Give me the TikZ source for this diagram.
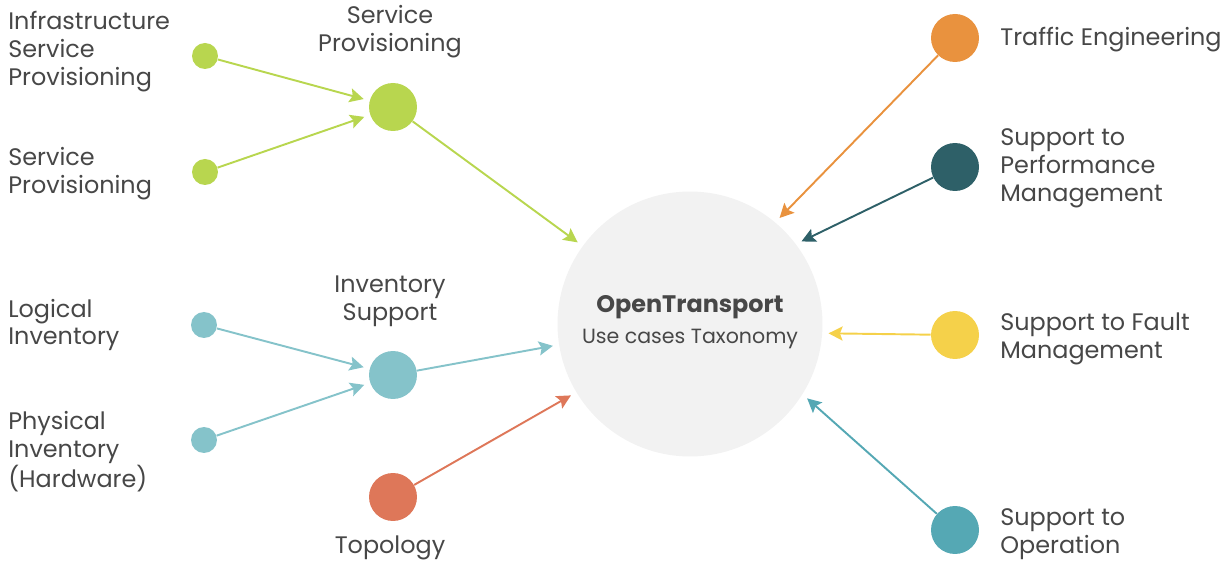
\documentclass[tikz,border=0pt]{standalone}
\usepackage{fontspec}
\setmainfont{Poppins}
\usetikzlibrary{arrows.meta}
\definecolor{provgreen}{HTML}{B8D64F}
\definecolor{invteal}{HTML}{85C3CA}
\definecolor{topored}{HTML}{DE7759}
\definecolor{trafficorange}{HTML}{E9923E}
\definecolor{perfteal}{HTML}{2E6068}
\definecolor{faultyellow}{HTML}{F5D14A}
\definecolor{operteal}{HTML}{55A8B4}
\definecolor{coregray}{HTML}{F2F2F2}
\definecolor{textgray}{HTML}{474747}
\tikzstyle{core} = [circle, minimum size=5.3cm, inner sep=0pt, fill=coregray]
\tikzstyle{hub} = [circle, minimum size=0.96cm, inner sep=0pt]
\tikzstyle{dot} = [circle, minimum size=0.52cm, inner sep=0pt]
\tikzstyle{sidetext} = [anchor=west, align=left, inner sep=0pt, text=textgray, font=\fontsize{13.6}{15.9}\selectfont]
\tikzstyle{hubtext} = [align=center, inner sep=0pt, text=textgray, font=\fontsize{13.6}{15.9}\selectfont]
\tikzstyle{arrow} = [line width=1.1pt, -{Stealth[length=8pt, width=8pt, inset=1.5pt]}, shorten >=0.12cm]

\begin{document}
\begin{tikzpicture}[x=0.02cm, y=-0.02cm]
\useasboundingbox (0,0) rectangle (1231,563);

% objects
\node (core) at (690,324) [core] {};
\node (coretitle) at (690,307) [hubtext] {\textbf{OpenTransport}};
\node (coresub) at (690,339) [hubtext, font=\fontsize{11.7}{14}\selectfont] {Use cases Taxonomy};

\node (prov) at (393,107) [hub, fill=provgreen] {};
\node (infra) at (205,56) [dot, fill=provgreen] {};
\node (serv) at (205,172) [dot, fill=provgreen] {};

\node (inv) at (393,375) [hub, fill=invteal] {};
\node (logical) at (204,325) [dot, fill=invteal] {};
\node (physical) at (204,440) [dot, fill=invteal] {};

\node (topo) at (393,497) [hub, fill=topored] {};

\node (traffic) at (955,38) [hub, fill=trafficorange] {};
\node (perf) at (955,167) [hub, fill=perfteal] {};
\node (fault) at (955,335) [hub, fill=faultyellow] {};
\node (oper) at (955,530) [hub, fill=operteal] {};

% texts
\node (infratext) at (8,52) [sidetext] {Infrastructure\\Service\\Provisioning};
\node (servtext) at (8,174) [sidetext] {Service\\Provisioning};
\node (provtext) at (390,32) [hubtext] {Service\\Provisioning};
\node (logicaltext) at (8,325) [sidetext] {Logical\\Inventory};
\node (physicaltext) at (8,452) [sidetext] {Physical\\Inventory\\(Hardware)};
\node (invtext) at (390,301) [hubtext] {Inventory\\Support};
\node (topotext) at (390,548) [hubtext] {Topology};

\node (traffictext) at (1000,40) [sidetext] {Traffic Engineering};
\node (perftext) at (1000,168) [sidetext] {Support to\\Performance\\Management};
\node (faulttext) at (1000,339) [sidetext] {Support to Fault\\Management};
\node (opertext) at (1000,534) [sidetext] {Support to\\Operation};

% arrows
\draw [arrow, provgreen] (infra) -- (prov);
\draw [arrow, provgreen] (serv) -- (prov);
\draw [arrow, provgreen] (prov) -- (core.144);

\draw [arrow, invteal] (logical) -- (inv);
\draw [arrow, invteal] (physical) -- (inv);
\draw [arrow, invteal] (inv) -- (core.189);

\draw [arrow, topored] (topo) -- (core.211);

\draw [arrow, trafficorange] (traffic) -- (core.50);
\draw [arrow, perfteal] (perf) -- (core.37);
\draw [arrow, faultyellow] (fault) -- (core.356);
\draw [arrow, operteal] (oper) -- (core.328);

\end{tikzpicture}
\end{document}
